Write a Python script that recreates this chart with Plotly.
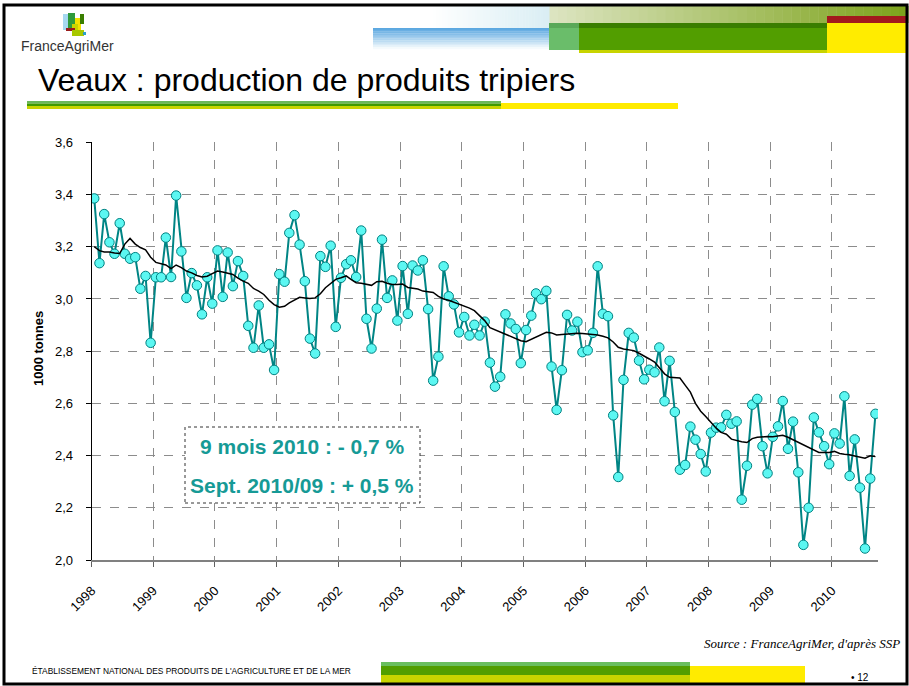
import pandas as pd
import plotly.graph_objects as go

W, H = 909, 686

# monthly production, Jan 1998 - Sep 2010 (1000 t)
months = pd.date_range("1998-01-01", "2010-09-01", freq="MS")
production = [
    3.385, 3.137, 3.325, 3.217, 3.173, 3.290, 3.173, 3.154, 3.160, 3.039, 3.088, 2.832,
    3.083, 3.083, 3.235, 3.084, 3.396, 3.182, 3.004, 3.099, 3.052, 2.941, 3.083, 2.982,
    3.186, 3.008, 3.178, 3.049, 3.145, 3.088, 2.897, 2.813, 2.975, 2.813, 2.826, 2.728,
    3.095, 3.066, 3.253, 3.321, 3.208, 3.068, 2.848, 2.791, 3.164, 3.123, 3.204, 2.893,
    3.081, 3.133, 3.148, 3.084, 3.262, 2.924, 2.810, 2.963, 3.227, 3.004, 3.071, 2.917,
    3.126, 2.943, 3.128, 3.109, 3.148, 2.961, 2.687, 2.779, 3.125, 3.010, 2.979, 2.872,
    2.931, 2.860, 2.901, 2.860, 2.913, 2.756, 2.664, 2.702, 2.941, 2.906, 2.885, 2.754,
    2.881, 2.936, 3.021, 2.999, 3.031, 2.741, 2.575, 2.727, 2.939, 2.879, 2.913, 2.796,
    2.803, 2.870, 3.125, 2.943, 2.934, 2.554, 2.318, 2.690, 2.870, 2.852, 2.764, 2.692,
    2.729, 2.719, 2.814, 2.608, 2.763, 2.567, 2.346, 2.364, 2.511, 2.461, 2.406, 2.339,
    2.488, 2.507, 2.508, 2.556, 2.522, 2.531, 2.231, 2.361, 2.595, 2.617, 2.436, 2.332,
    2.472, 2.512, 2.609, 2.426, 2.530, 2.336, 2.058, 2.200, 2.546, 2.489, 2.436, 2.367,
    2.485, 2.446, 2.627, 2.322, 2.462, 2.277, 2.044, 2.312, 2.560,
]
# 12-month moving average as drawn
trend = [
    3.200, 3.185, 3.180, 3.180, 3.176, 3.174, 3.210, 3.232, 3.210, 3.197, 3.188, 3.160,
    3.140, 3.135, 3.130, 3.116, 3.130, 3.120, 3.107, 3.100, 3.090, 3.084, 3.087, 3.097,
    3.107, 3.103, 3.098, 3.094, 3.080, 3.068, 3.060, 3.040, 3.030, 3.017, 2.995, 2.978,
    2.968, 2.972, 2.985, 2.997, 3.006, 3.004, 3.002, 3.004, 3.020, 3.043, 3.060, 3.075,
    3.081, 3.088, 3.075, 3.062, 3.060, 3.055, 3.052, 3.066, 3.068, 3.060, 3.055, 3.055,
    3.057, 3.044, 3.042, 3.038, 3.030, 3.028, 3.025, 3.010, 3.000, 2.995, 2.987, 2.980,
    2.974, 2.965, 2.955, 2.935, 2.917, 2.890, 2.882, 2.872, 2.865, 2.857, 2.848, 2.840,
    2.836, 2.845, 2.853, 2.862, 2.872, 2.870, 2.862, 2.864, 2.866, 2.868, 2.869, 2.868,
    2.866, 2.864, 2.862, 2.857, 2.851, 2.835, 2.815, 2.808, 2.804, 2.802, 2.792, 2.782,
    2.770, 2.758, 2.735, 2.713, 2.700, 2.697, 2.697, 2.670, 2.643, 2.600, 2.570, 2.550,
    2.527, 2.505, 2.489, 2.482, 2.463, 2.457, 2.453, 2.450, 2.465, 2.470, 2.472, 2.473,
    2.472, 2.475, 2.478, 2.470, 2.460, 2.450, 2.440, 2.431, 2.420, 2.412, 2.412, 2.412,
    2.416, 2.408, 2.405, 2.403, 2.398, 2.393, 2.390, 2.399, 2.396,
]
box_lines = ["9 mois 2010 : - 0,7 %", "Sept. 2010/09 : + 0,5 %"]

x_mid = months + pd.Timedelta(days=15)


def px(x):
    return x / W


def py(y):
    return 1 - y / H


def rect(x0, y0, x1, y1, color):
    return dict(type="rect", xref="paper", yref="paper",
                x0=px(x0), x1=px(x1), y0=py(y1), y1=py(y0),
                fillcolor=color, line=dict(width=0), layer="above")


def label(text, x, y, size, xanchor="left", family="Liberation Sans, Arial",
          color="black", **kw):
    return dict(text=text, xref="paper", yref="paper", x=px(x), y=py(y),
                xanchor=xanchor, yanchor="middle", showarrow=False,
                font=dict(family=family, size=size, color=color), **kw)


def mix(c0, c1, t):
    return "rgb(%d,%d,%d)" % tuple(round(a + (b - a) * t) for a, b in zip(c0, c1))


fig = go.Figure()

fig.add_trace(go.Scatter(
    x=x_mid, y=production, mode="lines+markers", name="production",
    line=dict(color="#008585", width=2),
    marker=dict(size=9.5, color="#5cf7f2", line=dict(color="#008080", width=1)),
))
fig.add_trace(go.Scatter(
    x=x_mid, y=trend, mode="lines", name="moyenne mobile",
    line=dict(color="black", width=1.5),
))

shapes = []
# header decoration (stepped gradients)
n = 40
for k in range(n):
    t = k / (n - 1)
    x0 = 549 + (908 - 549) * k / n
    shapes.append(rect(x0, 6, x0 + (908 - 549) / n + 0.5, 23, mix((220, 228, 192), (125, 163, 28), t)))
for k in range(n):
    t = k / (n - 1)
    x0 = 430 + (549 - 430) * k / n
    shapes.append(rect(x0, 6, x0 + (549 - 430) / n + 0.5, 28, mix((255, 255, 255), (218, 238, 244), t)))
for k in range(12):
    t = k / 11
    y0 = 28 + 21 * k / 12
    shapes.append(rect(373, y0, 549, y0 + 21 / 12 + 0.3, mix((92, 168, 224), (245, 250, 253), t)))
shapes += [
    rect(549, 23, 579, 50, "#6abd6a"),
    rect(549, 23, 827, 28, "#3a7e00"),
    rect(549, 23, 579, 28, "#5aa858"),
    rect(579, 28, 827, 50, "#529e00"),
    rect(579, 50, 827, 53, "#c8d400"),
    rect(827, 16, 908, 23, "#a3191d"),
    rect(827, 23, 908, 53, "#ffec00"),
    # title underline
    rect(27, 101, 501, 103.5, "#6ab85a"),
    rect(27, 103.5, 501, 106, "#3f9a00"),
    rect(27, 106, 501, 109, "#c8d400"),
    rect(501, 103, 678, 109, "#ffeb00"),
    # footer bars
    rect(381, 662, 690, 666, "#6abf5f"),
    rect(381, 666, 690, 675, "#529e00"),
    rect(381, 675, 690, 683, "#c8d400"),
    rect(690, 666, 805, 683, "#ffeb00"),
    # logo
    rect(63, 14, 73, 30, "#a6d8f0"),
    rect(68, 13, 75, 29, "#2f9a3c"),
    rect(75, 18, 81, 33, "#f2e200"),
    rect(72, 24, 78, 31, "#c8d400"),
    rect(66, 28, 75, 31, "#9a1c1c"),
    rect(72, 30, 84, 36, "#a8c800"),
    rect(80, 14, 84, 24, "#3a7e00"),
    rect(83, 32, 86, 35, "#2aa0c8"),
]
# text box
shapes.append(dict(type="rect", xref="paper", yref="paper",
                   x0=px(185), x1=px(420), y0=py(503), y1=py(427),
                   fillcolor="white", line=dict(color="#333333", width=1, dash="dot"),
                   layer="above"))
# slide frame
shapes.append(dict(type="rect", xref="paper", yref="paper",
                   x0=px(4), x1=px(907), y0=py(684), y1=py(5),
                   line=dict(color="black", width=3), layer="above"))

annotations = [
    label("FranceAgriMer", 19, 46, 14, color="#333333"),
    label("Veaux : production de produits tripiers", 36, 80, 32),
    label("<b>1000 tonnes</b>", 38, 349, 13, xanchor="center", textangle=-90),
    label("<i>Source : FranceAgriMer, d'après SSP</i>", 902, 643, 13, xanchor="right",
          family="Liberation Serif, Times New Roman"),
    label("ÉTABLISSEMENT NATIONAL DES PRODUITS DE L'AGRICULTURE ET DE LA MER", 30, 671, 8.4),
    label("• 12", 871, 677, 10, xanchor="right"),
]
for txt, yy in zip(box_lines, [446, 485]):
    annotations.append(label("<b>%s</b>" % txt, 302, yy, 21, xanchor="center", color="#169a96"))

fig.update_layout(
    width=W, height=H, autosize=False,
    margin=dict(l=0, r=0, t=0, b=0, pad=0),
    paper_bgcolor="white", plot_bgcolor="white",
    showlegend=False,
    separators=", ",
    shapes=shapes,
    annotations=annotations,
    xaxis=dict(
        domain=[px(91.7), px(878)],
        range=["1998-01-01", "2010-10-01"],
        tickvals=pd.date_range("1998-01-01", "2010-01-01", freq="YS"),
        tickformat="%Y", tickangle=-45, automargin=False,
        showgrid=True, gridcolor="#8c8c8c", griddash="dash", gridwidth=1,
        showline=True, linecolor="#808080", linewidth=2,
        ticks="outside", ticklen=5, tickcolor="#606060",
        ticklabelstandoff=11,
        tickfont=dict(family="Liberation Sans, Arial", size=13, color="black"),
    ),
    yaxis=dict(
        domain=[py(560), py(142.3)],
        range=[2.0, 3.6], dtick=0.2, tickformat=".1f", automargin=False,
        showgrid=True, gridcolor="#8c8c8c", griddash="dash", gridwidth=1,
        showline=True, linecolor="black", linewidth=1,
        ticks="outside", ticklen=5, tickcolor="black",
        ticklabelstandoff=10,
        zeroline=False,
        tickfont=dict(family="Liberation Sans, Arial", size=13, color="black"),
    ),
)

fig.write_html("out.html", config=dict(displayModeBar=False),
               post_script="document.body.style.margin='0';")
